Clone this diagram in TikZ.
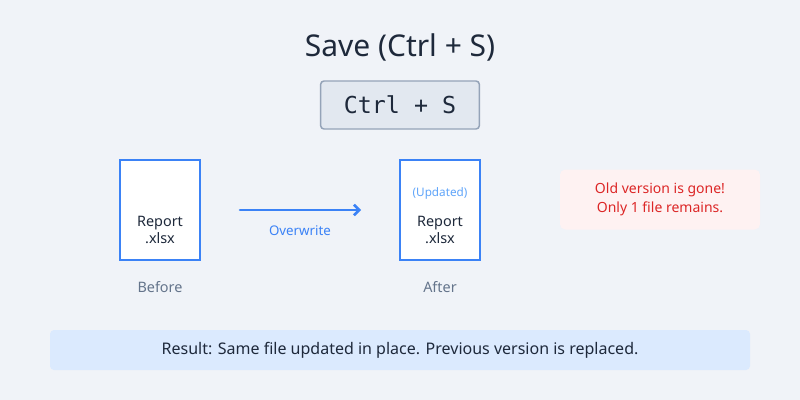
\documentclass[tikz,border=0pt]{standalone}
\usepackage{fontspec}
\usetikzlibrary{arrows.meta}
\setmainfont{Noto Sans}
\setmonofont{DejaVu Sans Mono}
\definecolor{bgcol}{HTML}{F0F3F8}
\definecolor{inkcol}{HTML}{1E293B}
\definecolor{greycol}{HTML}{64748B}
\definecolor{bluecol}{HTML}{3B82F6}
\definecolor{lightblue}{HTML}{60A5FA}
\definecolor{keyfill}{HTML}{E2E8F0}
\definecolor{keyline}{HTML}{94A3B8}
\definecolor{redcol}{HTML}{DC2626}
\definecolor{redfill}{HTML}{FEF2F2}
\definecolor{resfill}{HTML}{DBEAFE}
\begin{document}
\begin{tikzpicture}[x=0.75pt,y=-0.75pt,
	filebox/.style={draw=bluecol,line width=1.5pt,fill=white,minimum width=60pt,minimum height=75pt,inner sep=0pt},
	body/.style={text=inkcol,font=\fontsize{10.8}{12.6}\selectfont,align=center,inner sep=0pt},
	caption/.style={text=greycol,font=\fontsize{10.8}{12.6}\selectfont,inner sep=0pt}]
				% Background
				\fill[bgcol] (0,0) rectangle (800,400) ;
				\useasboundingbox (0,0) rectangle (800,400) ;
				% Title and key
				\node[text=inkcol,font=\fontsize{22.5}{25}\selectfont] (title) at (400,47) {Save (Ctrl + S)} ;
				\node[draw=keyline,line width=1.1pt,fill=keyfill,rounded corners=2.5pt,minimum width=119pt,minimum height=36pt,
					text=inkcol,font=\ttfamily\fontsize{17.5}{20}\selectfont] (key) at (400,105) {Ctrl + S} ;
				% Before file
				\node[filebox] (before) at (160,210) {} ;
				\node[body] (beforetxt) at (160,230) {Report\\.xlsx} ;
				\node[caption] (beforelbl) at (160,287) {Before} ;
				% After file
				\node[filebox] (after) at (440,210) {} ;
				\node[text=lightblue,font=\fontsize{8.8}{10}\selectfont,inner sep=0pt] (updated) at (440,193.5) {(Updated)} ;
				\node[body] (aftertxt) at (440,230) {Report\\.xlsx} ;
				\node[caption] (afterlbl) at (440,287) {After} ;
				% Overwrite arrow
				\coordinate (arrowA) at (240,210) ;
				\coordinate (arrowB) at (361,210) ;
				\draw[bluecol,line width=1.9pt,line cap=round,->,>={Straight Barb[length=4pt,width=8pt]}] (arrowA) -- (arrowB) ;
				\node[text=bluecol,font=\fontsize{10}{11}\selectfont] (overwrite) at (300,231) {Overwrite} ;
				% Warning note
				\node[fill=redfill,rounded corners=4pt,minimum width=150pt,minimum height=45pt,text=redcol,align=center,
					font=\fontsize{10.5}{14.2}\selectfont] (note) at (660,199.5) {Old version is gone!\\Only 1 file remains.} ;
				% Result bar
				\node[fill=resfill,rounded corners=3pt,minimum width=525pt,minimum height=30pt,text=inkcol,
					font=\fontsize{12}{13}\selectfont] (result) at (400,350) {Result: Same file updated in place. Previous version is replaced.} ;
\end{tikzpicture}
\end{document}
